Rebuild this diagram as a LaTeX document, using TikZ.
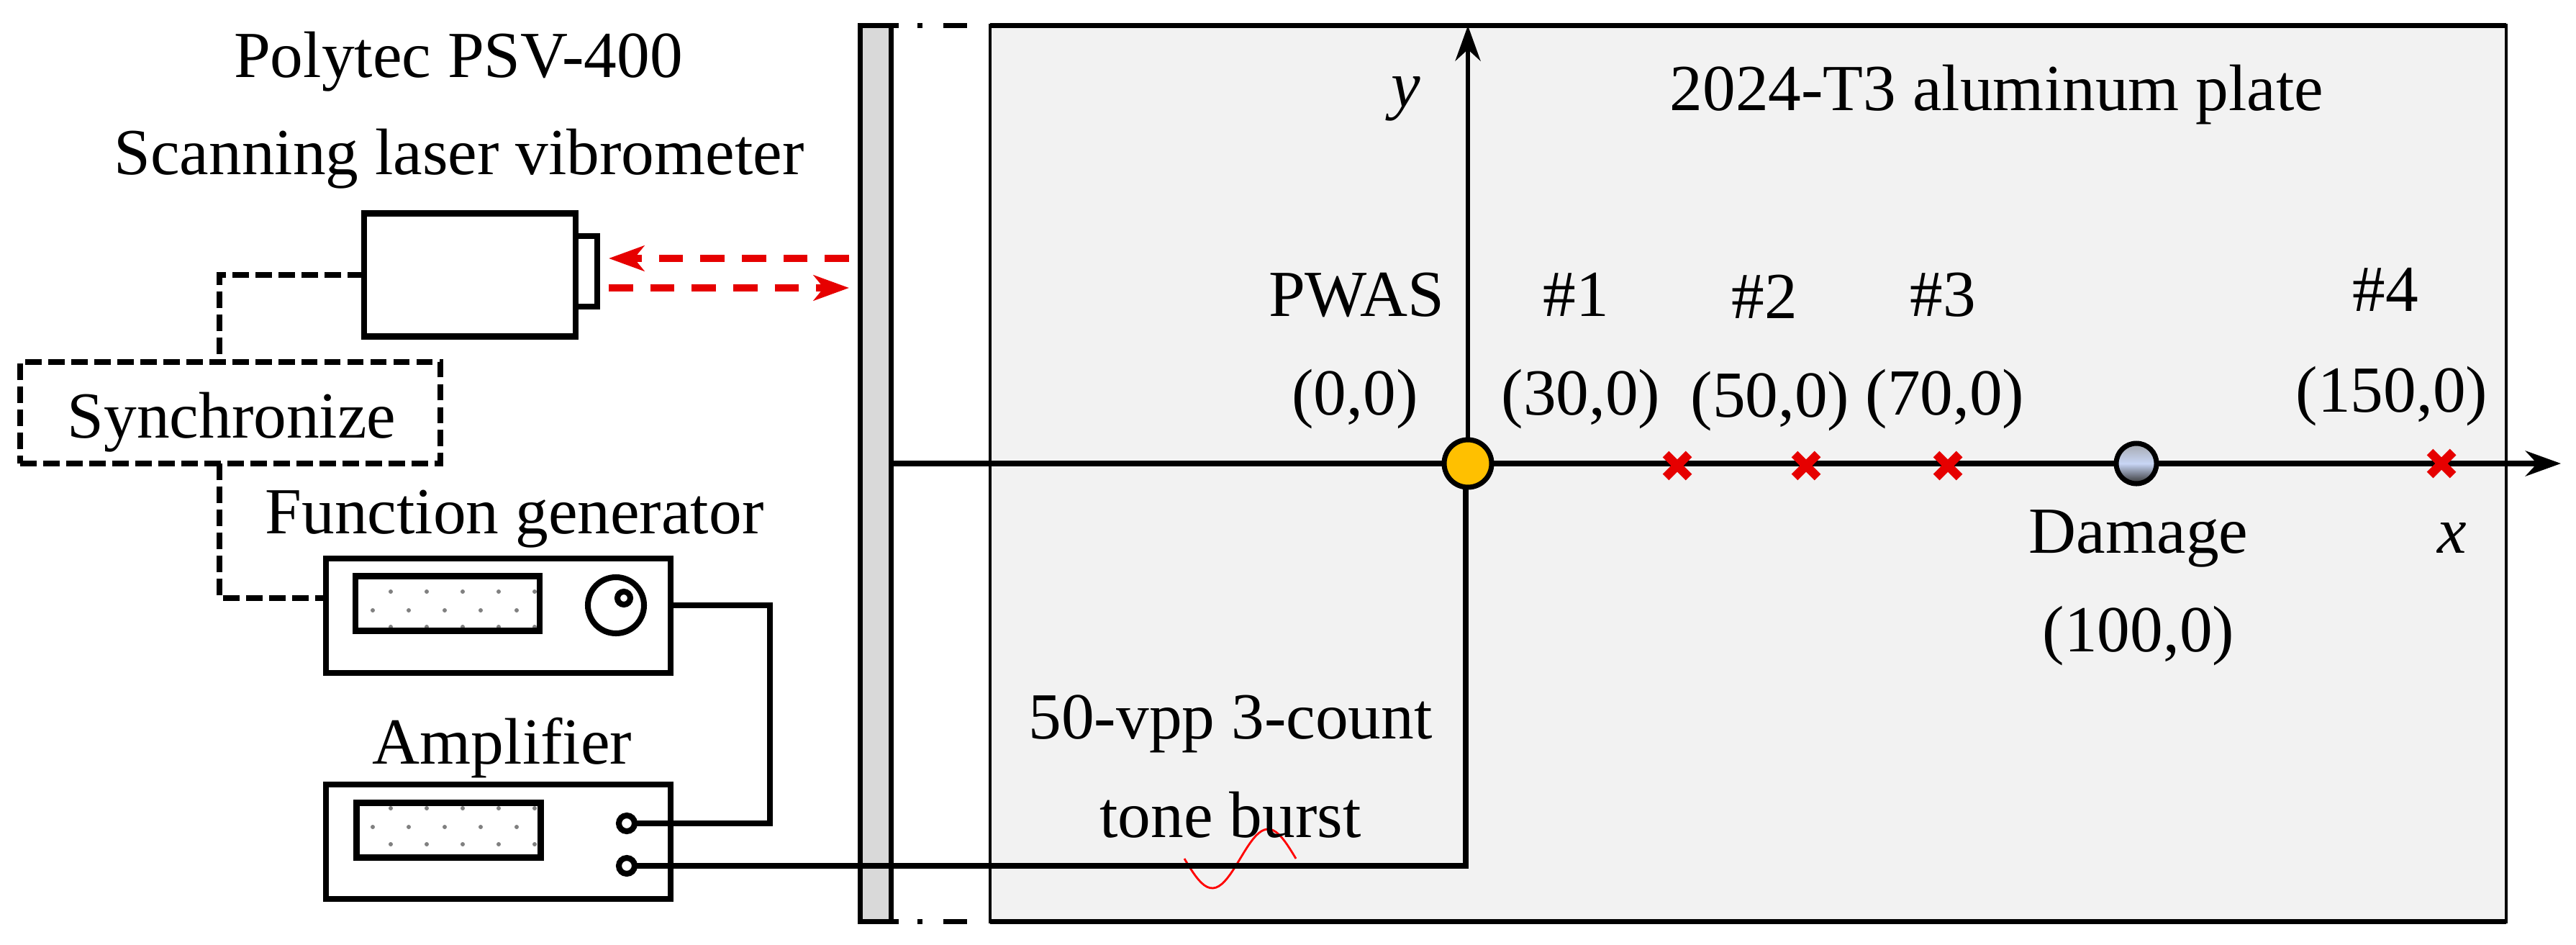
\documentclass[tikz,border=0pt]{standalone}
\usepackage{fontspec}
\setmainfont{Liberation Serif}
\usetikzlibrary{arrows.meta,calc,shapes.misc}
\definecolor{platefill}{HTML}{F2F2F2}
\definecolor{wallfill}{HTML}{D9D9D9}
\definecolor{beamred}{HTML}{E60000}
\definecolor{pwasfill}{HTML}{FFC000}
\definecolor{speckgray}{HTML}{808080}
\definecolor{damagetop}{HTML}{A5A8AE}
\definecolor{damagemid}{HTML}{C8D6F5}
\definecolor{damagelow}{HTML}{303030}
\tikzset{
 lbl/.style={inner sep=0pt,anchor=base,font=\fontsize{26}{31}\selectfont},
 instr/.style={draw,line width=2.3pt,inner sep=0pt,outer sep=0pt},
 screen/.style={instr,minimum width=2.56cm,minimum height=0.76cm},
 panel/.style={instr,minimum width=4.79cm,minimum height=1.59cm},
 port/.style={instr,circle,fill=white,minimum size=0.22cm},
 sensorpt/.style={cross out,draw=beamred,line width=3.5pt,inner sep=0pt,outer sep=0pt,minimum size=0.32cm},
 syncline/.style={line width=2.2pt,dash pattern=on 6.5pt off 2.6pt},
 wire/.style={line width=2.3pt},
 axisline/.style={line width=2pt,-{Stealth[length=14pt,width=10pt]}},
 beam/.style={draw=beamred,line width=2.6pt,dash pattern=on 9.6pt off 6.8pt,-{Stealth[length=14pt,width=10pt,inset=4pt]}},
 breakline/.style={line width=2.1pt,dash pattern=on 3pt off 7.5pt on 2pt off 8pt on 9.5pt off 10pt}}
\begin{document}
\begin{tikzpicture}[x=1cm,y=1cm]
\useasboundingbox (0,0) rectangle (35.8,13.12);

\node[draw,fill=platefill,line width=1.2pt,inner sep=0pt,outer sep=0pt,minimum width=21.07cm,minimum height=12.45cm] (plate) at (24.295,6.54) {};
\node[draw,fill=wallfill,line width=2pt,inner sep=0pt,outer sep=0pt,minimum width=0.43cm,minimum height=12.45cm] (wall) at (12.17,6.54) {};
\draw[line width=2.1pt] (plate.north west) -- (plate.north east);
\draw[line width=2.1pt] (plate.south west) -- (plate.south east);
\draw[breakline] (wall.north east) -- (plate.north west);
\draw[breakline] (wall.south east) -- (plate.south west);

% instruments
\node[instr,minimum width=2.94cm,minimum height=1.71cm] (laser) at (6.53,9.30) {};
\node[instr,minimum width=0.30cm,minimum height=0.98cm] (lens) at (8.15,9.35) {};
\node[instr,dash pattern=on 6.5pt off 2.6pt,minimum width=5.84cm,minimum height=1.41cm] (sync) at (3.20,7.385) {};
\node[panel] (fgen) at (6.925,4.565) {};
\node[panel] (amp) at (6.925,1.425) {};
\foreach \x in {5.43,5.93,6.43,6.93,7.43} {
 \fill[speckgray] (\x,4.90) circle (0.03);
 \fill[speckgray] (\x,4.41) circle (0.03);
 \fill[speckgray] (\x,1.89) circle (0.03);
 \fill[speckgray] (\x,1.39) circle (0.03);
 \fill[speckgray] (\x-0.25,4.64) circle (0.03);
 \fill[speckgray] (\x-0.25,1.63) circle (0.03);
}
\node[screen] (fscreen) at (6.22,4.735) {};
\node[screen] (ascreen) at (6.235,1.585) {};
\node[instr,circle,minimum size=0.78cm] (knob) at (8.56,4.71) {};
\node[instr,circle,minimum size=0.18cm] (knobdot) at (8.67,4.81) {};
\node[port] (port1) at (8.71,1.68) {};
\node[port] (port2) at (8.71,1.09) {};

\coordinate (origin) at (20.40,6.68);
\coordinate (feedtop) at (20.37,6.68);
\coordinate (xend) at (35.59,6.68);
\coordinate (beamwalla) at (11.80,9.53);
\coordinate (beamwallb) at (11.80,9.12);
\coordinate (beamlensa) at (8.46,9.53);
\coordinate (beamlensb) at (8.46,9.12);
\coordinate (syncup) at (3.05,8.09);
\coordinate (syncdown) at (3.05,6.68);
\coordinate (fgenin) at (4.53,4.81);
\coordinate (wirebend) at (10.70,1.68);

% connectors
\draw[red,line width=0.8pt] plot[domain=0:360,samples=40] ({16.46+\x/360*1.55},{1.19+0.41*sin(-\x)});
\draw[axisline] (wall.east |- origin) -- (xend);
\draw[axisline,line width=1.5pt] (origin) -- (origin |- plate.north);
\draw[wire] (port2.east) -| (feedtop);
\draw[wire] (knob -| fgen.east) -| (wirebend) -- (port1.east);
\draw[syncline] (laser.west) -| (syncup);
\draw[syncline] (syncdown) |- (fgenin);
\draw[beam] (beamwalla) -- (beamlensa);
\draw[beam] (beamlensb) -- (beamwallb);

% plate markers
\node[instr,circle,fill=pwasfill,line width=2pt,minimum size=0.66cm] (pwas) at (origin) {};
\node[instr,circle,line width=2pt,top color=damagetop,bottom color=damagelow,middle color=damagemid,minimum size=0.56cm] (damage) at (29.69,6.68) {};
\node[sensorpt] (s1) at (23.31,6.65) {};
\node[sensorpt] (s2) at (25.10,6.65) {};
\node[sensorpt] (s3) at (27.07,6.65) {};
\node[sensorpt] (s4) at (33.93,6.68) {};

% labels
\node[lbl] (lpoly) at (6.37,12.05) {Polytec PSV-400};
\node[lbl] (lscan) at (6.38,10.70) {Scanning laser vibrometer};
\node[lbl] (lsync) at (3.22,7.04) {Synchronize};
\node[lbl] (lfgen) at (7.15,5.71) {Function generator};
\node[lbl] (lamp) at (6.98,2.51) {Amplifier};
\node[lbl] (lplate) at (27.75,11.59) {2024-T3 aluminum plate};
\node[lbl] (ly) at (19.54,11.64) {\textit{y}};
\node[lbl] (lx) at (34.08,5.44) {\textit{x}};
\node[lbl] (lpwas) at (18.85,8.73) {PWAS};
\node[lbl] (lpwasc) at (18.83,7.36) {(0,0)};
\node[lbl] (ls1) at (21.90,8.73) {\#1};
\node[lbl] (ls1c) at (21.97,7.36) {(30,0)};
\node[lbl] (ls2) at (24.52,8.70) {\#2};
\node[lbl] (ls2c) at (24.60,7.33) {(50,0)};
\node[lbl] (ls3) at (27.00,8.73) {\#3};
\node[lbl] (ls3c) at (27.03,7.36) {(70,0)};
\node[lbl] (ls4) at (33.15,8.80) {\#4};
\node[lbl] (ls4c) at (33.24,7.40) {(150,0)};
\node[lbl] (ldam) at (29.72,5.44) {Damage};
\node[lbl] (ldamc) at (29.72,4.07) {(100,0)};
\node[lbl] (lburst) at (17.10,2.86) {50-vpp 3-count};
\node[lbl] (ltone) at (17.10,1.49) {tone burst};
\end{tikzpicture}
\end{document}
